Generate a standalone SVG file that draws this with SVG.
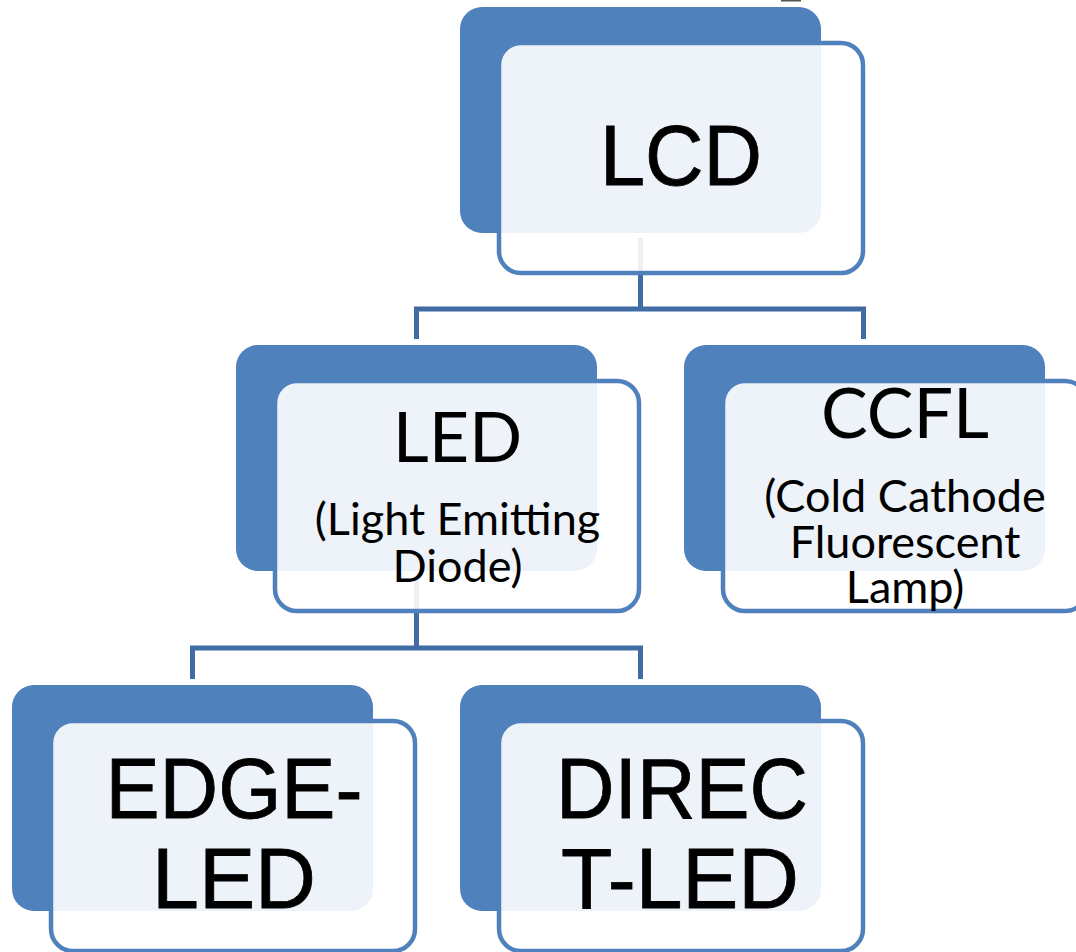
<svg xmlns="http://www.w3.org/2000/svg" width="1076" height="952" viewBox="0 0 1076 952">
<style>
.back{fill:#4F81BD}
.front{fill:#FFFFFF;fill-opacity:0.9;stroke:#4F81BD;stroke-width:4.5}
.conn{fill:none;stroke:#416BA4;stroke-width:5;stroke-linejoin:miter}
.big{font-family:"Liberation Sans",Arial,sans-serif;font-size:85px;fill:#000;stroke:#000;stroke-width:0.8;text-anchor:middle}
.mid{font-family:Lato,"Liberation Sans",sans-serif;font-size:70px;fill:#000;text-anchor:middle}
.small{font-family:Lato,"Liberation Sans",sans-serif;font-size:45px;fill:#000;text-anchor:middle}
</style>
<rect x="781" y="0" width="20" height="1.5" fill="#555"/>
<g id="connectors">
<path class="conn" d="M640.5 238 V309 M416.5 339 V309 H863.5 V339"/>
<path class="conn" d="M416.5 578 V648 M192.5 679 V648 H640.5 V679"/>
</g>
<g id="node-lcd">
<rect class="back" x="460" y="7" width="361" height="226" rx="22"/>
<rect class="front" x="499" y="43" width="364" height="230" rx="22"/>
<text class="big" x="681" y="185" textLength="162" lengthAdjust="spacingAndGlyphs">LCD</text>
</g>
<g id="node-led">
<rect class="back" x="236" y="345" width="361" height="226" rx="22"/>
<rect class="front" x="275" y="381" width="364" height="230" rx="22"/>
<text class="mid" x="457.5" y="462">LED</text>
<text class="small" x="457.5" y="535">(Light Emitting</text>
<text class="small" x="457.5" y="582">Diode)</text>
</g>
<g id="node-ccfl">
<rect class="back" x="684" y="345" width="361" height="226" rx="22"/>
<rect class="front" x="723" y="381" width="364" height="230" rx="22"/>
<text class="mid" x="905" y="438">CCFL</text>
<text class="small" x="905" y="512">(Cold Cathode</text>
<text class="small" x="905" y="558">Fluorescent</text>
<text class="small" x="905" y="603">Lamp)</text>
</g>
<g id="node-edge">
<rect class="back" x="12" y="685" width="361" height="226" rx="22"/>
<rect class="front" x="51" y="721" width="364" height="230" rx="22"/>
<text class="big" x="234" y="818" textLength="257" lengthAdjust="spacingAndGlyphs">EDGE-</text>
<text class="big" x="234" y="908" textLength="164" lengthAdjust="spacingAndGlyphs">LED</text>
</g>
<g id="node-direct">
<rect class="back" x="460" y="685" width="361" height="226" rx="22"/>
<rect class="front" x="499" y="721" width="364" height="230" rx="22"/>
<text class="big" x="682" y="818" textLength="252" lengthAdjust="spacingAndGlyphs">DIREC</text>
<text class="big" x="680" y="908" textLength="238" lengthAdjust="spacingAndGlyphs">T-LED</text>
</g>
</svg>
